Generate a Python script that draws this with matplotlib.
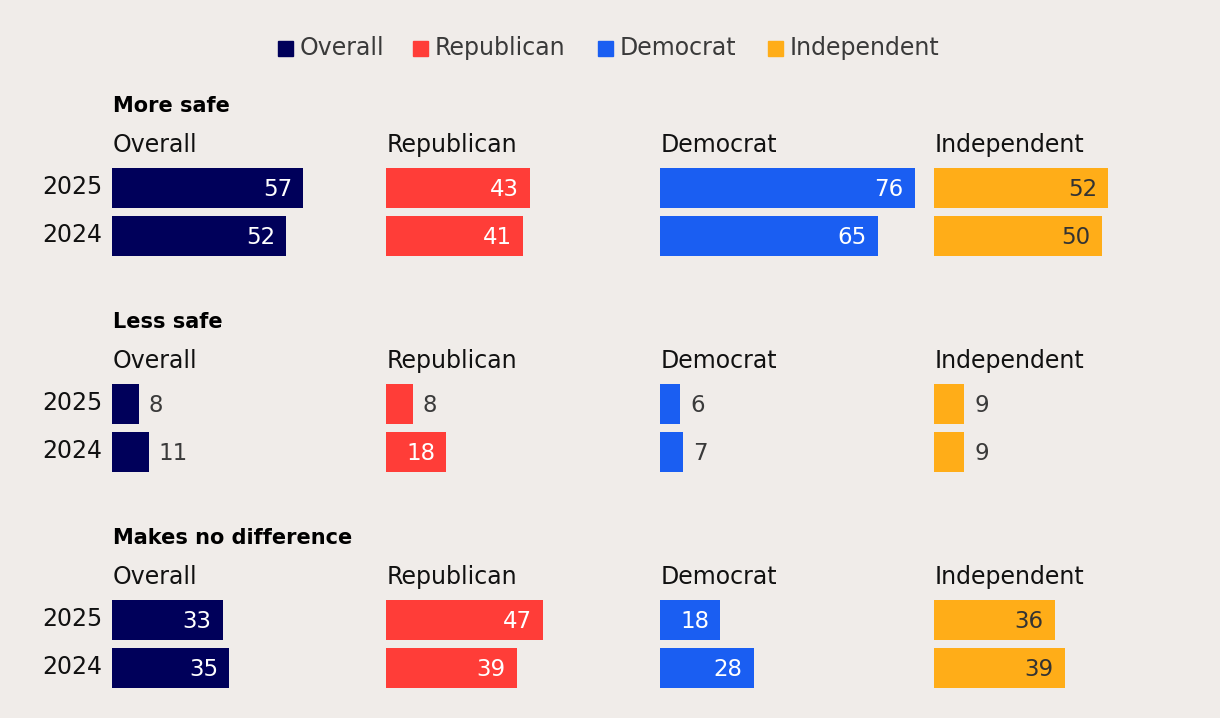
"""
Safety survey chart: share who feel more / less safe, by party, 2025 vs 2024
"""

import matplotlib.pyplot as plt
from matplotlib.patches import Rectangle

# Данные
sections = ['More safe', 'Less safe', 'Makes no difference']
groups = ['Overall', 'Republican', 'Democrat', 'Independent']
years = ['2025', '2024']

more_safe_2025 = [57, 43, 76, 52]
more_safe_2024 = [52, 41, 65, 50]
less_safe_2025 = [8, 8, 6, 9]
less_safe_2024 = [11, 18, 7, 9]
no_diff_2025 = [33, 47, 18, 36]
no_diff_2024 = [35, 39, 28, 39]

values = [
    (more_safe_2025, more_safe_2024),
    (less_safe_2025, less_safe_2024),
    (no_diff_2025, no_diff_2024),
]

colors = ['#00005a', '#ff3d38', '#1a5ef2', '#ffad18']
inside_text = ['white', 'white', 'white', '#333333']
BG = '#f0ece9'

W, H = 1220, 718
PX_PER_UNIT = 3.35
PANEL_X = [112, 386, 660, 934]
PANEL_W = 262
PT = 0.72  # пикселей -> пунктов при dpi=100
FS = 17
FS_VAL = 16.5


def fx(x):
    return x / W


def fy(y):
    return 1 - y / H


plt.rcParams['font.family'] = ['DejaVu Sans']
fig = plt.figure(figsize=(W / 100, H / 100), dpi=100, facecolor=BG)

# Легенда
leg_x = [278, 413, 598, 768]
for x, name, c in zip(leg_x, groups, colors):
    fig.patches.append(Rectangle((fx(x), fy(56)), 15 / W, 15 / H,
                                 transform=fig.transFigure, color=c))
    fig.text(fx(x + 22), fy(55), name, fontsize=FS, color='#3a3a3a',
             va='baseline', ha='left')

for s, (title, (v25, v24)) in enumerate(zip(sections, values)):
    off = s * 216
    fig.text(fx(113), fy(112 + off), title, fontsize=15, fontweight='bold',
             color='black', va='baseline')
    for yr, yy in zip(years, [194, 242]):
        fig.text(fx(102), fy(yy + off), yr, fontsize=FS, color='#111111',
                 va='baseline', ha='right')
    for g, name in enumerate(groups):
        x0 = PANEL_X[g]
        fig.text(fx(x0 + 1), fy(152 + off), name, fontsize=FS,
                 color='#111111', va='baseline')
        ax = fig.add_axes([fx(x0), fy(256 + off), PANEL_W / W, 88 / H])
        ax.set_facecolor('none')
        vals = [v25[g], v24[g]]
        ax.barh([0, 1], vals, height=40 / 48, color=colors[g])
        ax.set_xlim(0, PANEL_W / PX_PER_UNIT)
        ax.set_ylim(0.5 + 44 / 48, 0.5 - 44 / 48)
        ax.axis('off')
        for i, v in enumerate(vals):
            if v >= 12:
                ax.annotate(str(v), (v, i), xytext=(-11 * PT, -8 * PT),
                            textcoords='offset points', fontsize=FS_VAL,
                            color=inside_text[g], va='baseline', ha='right')
            else:
                ax.annotate(str(v), (v, i), xytext=(10 * PT, -8 * PT),
                            textcoords='offset points', fontsize=FS_VAL,
                            color='#3a3a3a', va='baseline', ha='left')

fig.savefig('out.png', dpi=100, facecolor=BG)
